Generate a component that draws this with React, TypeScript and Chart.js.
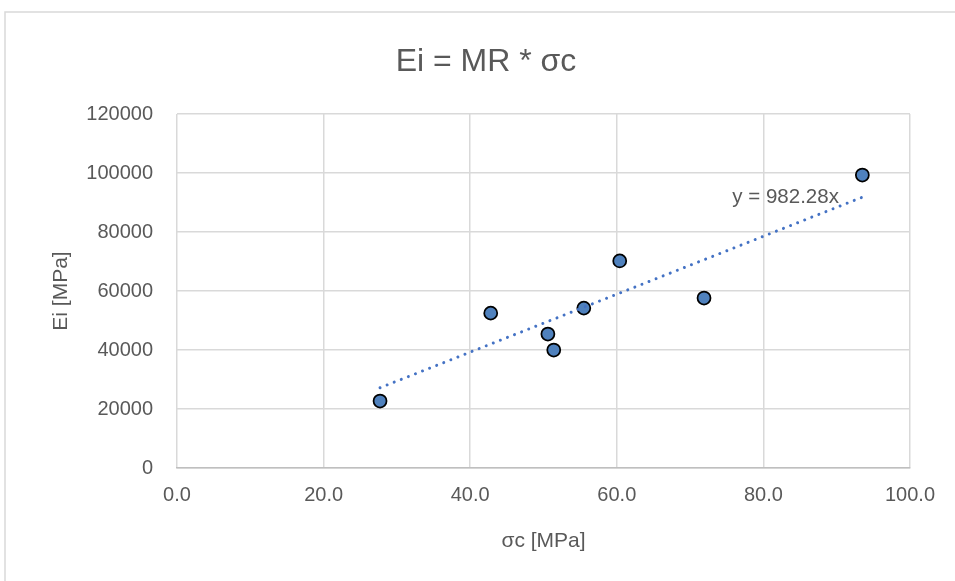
import React, { useEffect, useRef } from "react";
import { Chart, registerables } from "chart.js";

Chart.register(...registerables);

const sigmaC = [27.7, 42.8, 50.6, 51.4, 55.5, 60.4, 71.9, 93.5];
const eiValues = [22700, 52500, 45400, 40000, 54200, 70200, 57600, 99300];
const trendX = [27.7, 93.5];
const trendY = [27200, 91800];
const trendLabel = "y = 982.28x";
const trendLabelAt = [90.3, 91600];
const xTicks = [0, 20, 40, 60, 80, 100];
const yTicks = [0, 20000, 40000, 60000, 80000, 100000, 120000];
const titleText = "Ei = MR * σc";
const xTitle = "σc [MPa]";
const yTitle = "Ei [MPa]";

const FONT = "'Liberation Sans', Arial, sans-serif";
const TEXT = "#595959";

const decorPlugin = {
  id: "decor",
  beforeDraw(chart: any) {
    const ctx = chart.ctx;
    ctx.save();
    ctx.strokeStyle = "#D9D9D9";
    ctx.lineWidth = 1.5;
    ctx.beginPath();
    ctx.moveTo(5, chart.height);
    ctx.lineTo(5, 12);
    ctx.lineTo(chart.width, 12);
    ctx.stroke();
    ctx.restore();
  },
  afterDraw(chart: any) {
    const ctx = chart.ctx;
    ctx.save();
    ctx.fillStyle = TEXT;
    ctx.font = `32px ${FONT}`;
    ctx.textAlign = "center";
    ctx.textBaseline = "middle";
    ctx.fillText(titleText, 486, 62);
    const xs = chart.scales.x;
    const ys = chart.scales.y;
    ctx.font = `20.5px ${FONT}`;
    ctx.textAlign = "right";
    ctx.fillText(
      trendLabel,
      xs.getPixelForValue(trendLabelAt[0]),
      ys.getPixelForValue(trendLabelAt[1])
    );
    ctx.restore();
  },
};

export default function App() {
  const ref = useRef<HTMLCanvasElement>(null);
  useEffect(() => {
    document.body.style.margin = "0";
    const chart = new Chart(ref.current!, {
      type: "scatter",
      data: {
        datasets: [
          {
            type: "line",
            label: "trend",
            data: trendX.map((x, i) => ({ x, y: trendY[i] })),
            borderColor: "#4472C4",
            borderWidth: 3,
            borderDash: [0.01, 7.6],
            borderCapStyle: "round",
            pointRadius: 0,
            fill: false,
          } as any,
          {
            label: "data",
            data: sigmaC.map((x, i) => ({ x, y: eiValues[i] })),
            backgroundColor: "#4F81BD",
            borderColor: "#000000",
            borderWidth: 1.75,
            pointRadius: 6.5,
          },
        ],
      },
      options: {
        animation: false,
        responsive: false,
        layout: { padding: { top: 114, left: 0, right: 45, bottom: 0 } },
        plugins: { legend: { display: false }, tooltip: { enabled: false } },
        scales: {
          x: {
            type: "linear",
            min: 0,
            max: 100,
            afterBuildTicks: (s: any) => {
              s.ticks = xTicks.map((v) => ({ value: v }));
            },
            afterFit: (s: any) => {
              s.height = 113;
            },
            ticks: {
              color: TEXT,
              font: { family: FONT, size: 20 },
              padding: 15,
              callback: (v: any) => Number(v).toFixed(1),
            },
            grid: { color: "#D9D9D9", lineWidth: 1.5, drawTicks: false },
            border: { color: "#BFBFBF", width: 1.5 },
            title: {
              display: true,
              text: xTitle,
              color: TEXT,
              font: { family: FONT, size: 21 },
              padding: { top: 0, bottom: 27 },
            },
          },
          y: {
            type: "linear",
            min: 0,
            max: 120000,
            afterBuildTicks: (s: any) => {
              s.ticks = yTicks.map((v) => ({ value: v }));
            },
            afterFit: (s: any) => {
              s.width = 177;
            },
            ticks: {
              color: TEXT,
              font: { family: FONT, size: 20 },
              padding: 24,
              callback: (v: any) => String(v),
            },
            grid: { color: "#D9D9D9", lineWidth: 1.5, drawTicks: false },
            border: { display: false },
            title: {
              display: true,
              text: yTitle,
              color: TEXT,
              font: { family: FONT, size: 21 },
              padding: { top: 49, bottom: 0 },
            },
          },
        },
      },
      plugins: [decorPlugin],
    });
    return () => chart.destroy();
  }, []);
  return (
    <div style={{ width: 955, height: 581 }}>
      <canvas ref={ref} width={955} height={581} style={{ display: "block" }} />
    </div>
  );
}
